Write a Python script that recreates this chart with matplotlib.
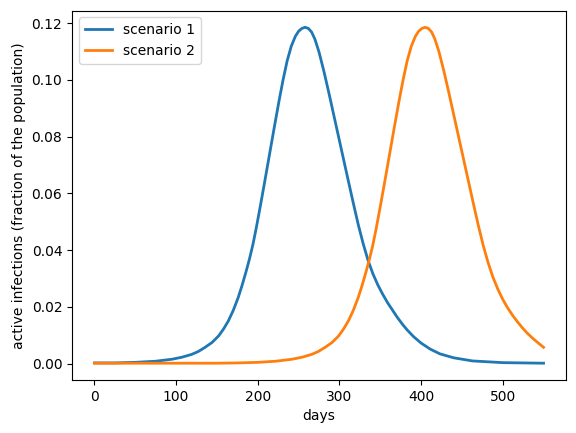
import matplotlib
matplotlib.use("Agg")
import matplotlib.pyplot as plt

# scenario 1
days1 = [0, 25, 50, 75, 95, 107, 119, 127, 135, 144, 152, 158, 164, 170, 176, 181, 186,
         190, 194, 198, 203, 208, 214, 220, 226, 231, 236, 241, 246, 250, 254, 258, 262,
         266, 270, 275, 281, 287, 293, 299, 305, 311, 317, 323, 329, 335, 341, 347, 353,
         359, 365, 371, 377, 383, 391, 400, 411, 423, 440, 463, 500, 525, 550]
vals1 = [0.0003, 0.0003, 0.0005, 0.0009, 0.0016, 0.0023, 0.0033, 0.0043, 0.0057, 0.0075,
         0.0098, 0.0122, 0.0151, 0.0188, 0.0233, 0.0278, 0.0328, 0.0371, 0.0419, 0.0476,
         0.0553, 0.0633, 0.0731, 0.0829, 0.0925, 0.1000, 0.1067, 0.1118, 0.1153, 0.1171,
         0.1181, 0.1185, 0.1181, 0.1168, 0.1143, 0.1098, 0.1030, 0.0955, 0.0877, 0.0799,
         0.0721, 0.0643, 0.0566, 0.0491, 0.0424, 0.0365, 0.0317, 0.0278, 0.0245, 0.0215,
         0.0189, 0.0163, 0.0140, 0.0119, 0.0095, 0.0073, 0.0052, 0.0035, 0.0021, 0.0010,
         0.0004, 0.0003, 0.0002]

# scenario 2
days2 = [0, 50, 100, 150, 175, 200, 222, 242, 254, 266, 274, 282, 291, 299, 305, 311,
         317, 323, 328, 333, 337, 341, 345, 350, 355, 361, 367, 373, 378, 383, 388, 393,
         397, 401, 405, 409, 413, 417, 422, 428, 434, 440, 446, 452, 458, 464, 470, 476,
         482, 488, 494, 500, 506, 512, 518, 524, 530, 537, 544, 550]
vals2 = [0.0002, 0.0002, 0.0002, 0.0002, 0.0003, 0.0005, 0.0009, 0.0016, 0.0023, 0.0033,
         0.0043, 0.0057, 0.0075, 0.0098, 0.0122, 0.0151, 0.0188, 0.0233, 0.0278, 0.0328,
         0.0371, 0.0419, 0.0476, 0.0553, 0.0633, 0.0731, 0.0829, 0.0925, 0.1000, 0.1067,
         0.1118, 0.1153, 0.1171, 0.1181, 0.1185, 0.1181, 0.1168, 0.1143, 0.1098, 0.1030,
         0.0955, 0.0877, 0.0799, 0.0721, 0.0643, 0.0565, 0.0489, 0.0418, 0.0357, 0.0305,
         0.0263, 0.0227, 0.0197, 0.0171, 0.0148, 0.0127, 0.0108, 0.0089, 0.0072, 0.0058]

labels = ["scenario 1", "scenario 2"]

fig = plt.figure(figsize=(5.76, 4.33), dpi=100)
ax = fig.add_axes([72 / 576, 53 / 433, 494 / 576, 369.5 / 433])
ax.plot(days1, vals1, lw=2, color="#1f77b4", label=labels[0])
ax.plot(days2, vals2, lw=2, color="#ff7f0e", label=labels[1])
ax.set_xlabel("days")
ax.set_ylabel("active infections (fraction of the population)")
ax.legend(loc="upper left")
fig.savefig("out.png", dpi=100)
